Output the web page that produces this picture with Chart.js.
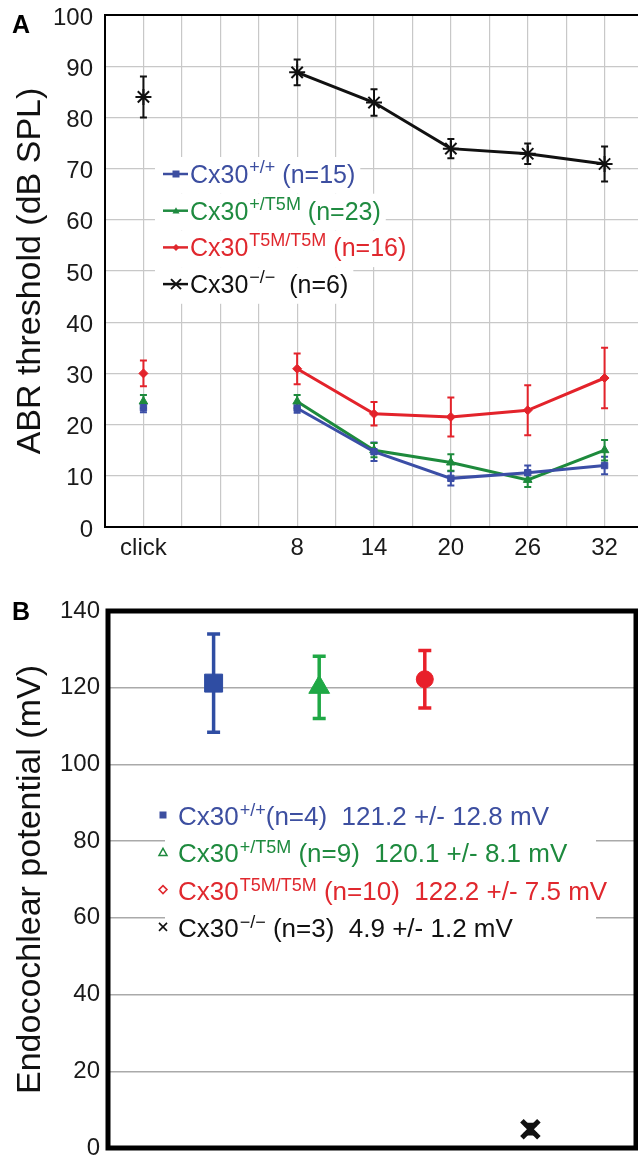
<!DOCTYPE html>
<html lang="en">
<head>
  <meta charset="UTF-8">
  <title>Cx30 ABR thresholds and endocochlear potential</title>
  <script src="https://cdn.jsdelivr.net/npm/chart.js"></script>
  <style>
    body { margin: 0; background: #fff; width: 638px; height: 1157px; overflow: hidden; position: relative; }
    .panel { position: absolute; left: 0; width: 638px; overflow: hidden; }
    #wrapA { top: 0; height: 580px; }
    #wrapB { top: 580px; height: 577px; }
    canvas { display: block; position: absolute; left: 0; }
    #chartA { top: -12px; }
    #chartB { top: 0; }
  </style>
</head>
<body>
  <div class="panel" id="wrapA"><canvas id="chartA" width="650" height="592"></canvas></div>
  <div class="panel" id="wrapB"><canvas id="chartB" width="638" height="592"></canvas></div>

<script>
  // ---- panel A data (ABR thresholds, dB SPL) ----
  const freqSlots = ['', 'click', '', '', '', '8', '', '14', '', '20', '', '26', '', '32', ''];
  const freqLabels = ['click', '8', '14', '20', '26', '32'];
  const wtMean  = [23.3, 23.2, 14.7, 9.5, 10.6, 12.0];
  const wtErr   = [0.9, 0.9, 1.8, 1.4, 1.4, 1.7];
  const hetMean = [24.5, 24.5, 15.0, 12.6, 9.2, 15.0];
  const hetErr  = [1.3, 1.3, 1.4, 1.6, 1.4, 2.0];
  const homMean = [30.0, 30.9, 22.1, 21.5, 22.8, 29.1];
  const homErr  = [2.5, 3.0, 2.3, 3.8, 4.9, 5.9];
  const koMean  = [84.0, 88.8, 82.9, 73.9, 72.9, 70.9];
  const koErr   = [4.0, 2.5, 2.6, 1.9, 2.0, 3.4];

  // ---- panel B data (endocochlear potential, mV) ----
  const genoSlots = ['', 'Cx30+/+', 'Cx30+/T5M', 'Cx30T5M/T5M', 'Cx30-/-', ''];
  const genotypes = ['Cx30+/+', 'Cx30+/T5M', 'Cx30T5M/T5M', 'Cx30-/-'];
  const epMean = [121.2, 120.1, 122.2, 4.9];
  const epErr  = [12.8, 8.1, 7.5, 1.2];

  const FONT = '"Liberation Sans", Arial, Helvetica, sans-serif';
  const BLUE = '#3b4ea6', GREEN = '#1d8a3c', RED = '#e3232b', BLACK = '#111';
  const OFFA = 12; // canvas A sits 12px above the page top

  const legendA = [
    { color: '#3c4ea0', marker: 'rect', sup: '+/+', rest: ' (n=15)' },
    { color: '#1f8b40', marker: 'triangle', sup: '+/T5M', rest: ' (n=23)' },
    { color: '#e0282e', marker: 'diamond', sup: 'T5M/T5M', rest: ' (n=16)' },
    { color: '#111', marker: 'star', sup: '\u2212/\u2212', rest: '  (n=6)' }
  ];
  const legendB = [
    { color: '#3d4fa0', marker: 'rect', sup: '+/+', rest: '(n=4)  121.2 +/- 12.8 mV' },
    { color: '#1e8a3e', marker: 'triangle', sup: '+/T5M', rest: ' (n=9)  120.1 +/- 8.1 mV' },
    { color: '#e0282e', marker: 'diamond', sup: 'T5M/T5M', rest: ' (n=10)  122.2 +/- 7.5 mV' },
    { color: '#111', marker: 'cross', sup: '\u2212/\u2212', rest: ' (n=3)  4.9 +/- 1.2 mV' }
  ];

  const toPoints = (labels, means) => labels.map((l, i) => ({ x: l, y: means[i] }));

  // vertical error bars through the y scale
  const errorBars = {
    id: 'errorBars',
    beforeDatasetsDraw(chart) {
      const ctx = chart.ctx;
      const ys = chart.scales.y;
      chart.data.datasets.forEach((ds, di) => {
        if (!ds.errors) return;
        const meta = chart.getDatasetMeta(di);
        meta.data.forEach((pt, i) => {
          const v = ds.data[i].y, e = ds.errors[i];
          const top = ys.getPixelForValue(v + e), bot = ys.getPixelForValue(v - e);
          ctx.save();
          ctx.strokeStyle = Array.isArray(ds.errColor) ? ds.errColor[i] : ds.errColor;
          ctx.lineWidth = ds.errWidth;
          ctx.beginPath();
          ctx.moveTo(pt.x, top); ctx.lineTo(pt.x, bot);
          ctx.moveTo(pt.x - ds.capW, top); ctx.lineTo(pt.x + ds.capW, top);
          ctx.moveTo(pt.x - ds.capW, bot); ctx.lineTo(pt.x + ds.capW, bot);
          ctx.stroke();
          ctx.restore();
        });
      });
    }
  };

  function drawMark(ctx, type, x, y, r, color, filled) {
    ctx.save();
    ctx.fillStyle = color; ctx.strokeStyle = color; ctx.lineWidth = 1.5;
    ctx.beginPath();
    if (type === 'rect') {
      ctx.rect(x - r, y - r, 2 * r, 2 * r);
    } else if (type === 'triangle') {
      ctx.moveTo(x, y - r); ctx.lineTo(x + r, y + r * 0.8); ctx.lineTo(x - r, y + r * 0.8); ctx.closePath();
    } else if (type === 'diamond') {
      ctx.moveTo(x, y - r); ctx.lineTo(x + r, y); ctx.lineTo(x, y + r); ctx.lineTo(x - r, y); ctx.closePath();
    } else if (type === 'star') {
      ctx.lineWidth = 2;
      ctx.moveTo(x - r, y - r); ctx.lineTo(x + r, y + r);
      ctx.moveTo(x - r, y + r); ctx.lineTo(x + r, y - r);
      ctx.moveTo(x - r * 1.2, y); ctx.lineTo(x + r * 1.2, y);
      ctx.stroke(); ctx.restore(); return;
    } else if (type === 'cross') {
      ctx.lineWidth = 1.6;
      ctx.moveTo(x - r, y - r); ctx.lineTo(x + r, y + r);
      ctx.moveTo(x - r, y + r); ctx.lineTo(x + r, y - r);
      ctx.stroke(); ctx.restore(); return;
    }
    if (filled) ctx.fill(); else ctx.stroke();
    ctx.restore();
  }

  // text row "Cx30" + superscript + rest; returns right end
  function legendText(ctx, row, x, base, size, supSize, raise, draw) {
    ctx.textAlign = 'left';
    ctx.textBaseline = 'alphabetic';
    ctx.fillStyle = row.color;
    ctx.font = size + 'px ' + FONT;
    if (draw) ctx.fillText('Cx30', x, base);
    let cx = x + ctx.measureText('Cx30').width + 1;
    ctx.font = supSize + 'px ' + FONT;
    if (draw) ctx.fillText(row.sup, cx, base - raise);
    cx += ctx.measureText(row.sup).width;
    ctx.font = size + 'px ' + FONT;
    if (draw) ctx.fillText(row.rest, cx, base);
    return cx + ctx.measureText(row.rest).width;
  }

  const panelA = {
    id: 'panelA',
    beforeDatasetsDraw(chart) {
      const ctx = chart.ctx;
      ctx.save();
      legendA.forEach((row, i) => {
        const base = 183 + OFFA + i * 36.7;
        const end = legendText(ctx, row, 190, base, 25, 18, 10, false);
        ctx.fillStyle = '#fff';
        ctx.fillRect(155, base - 26, end + 5 - 155, 36.7);
      });
      ctx.restore();
    },
    afterDraw(chart) {
      const ctx = chart.ctx, a = chart.chartArea;
      ctx.save();
      ctx.strokeStyle = '#000'; ctx.lineWidth = 2;
      ctx.beginPath(); ctx.moveTo(a.left, a.top); ctx.lineTo(a.right, a.top); ctx.stroke();
      legendA.forEach((row, i) => {
        const base = 183 + OFFA + i * 36.7;
        const my = base - 9;
        ctx.strokeStyle = row.color; ctx.lineWidth = 2.5;
        ctx.beginPath(); ctx.moveTo(163, my); ctx.lineTo(188, my); ctx.stroke();
        drawMark(ctx, row.marker, 176, my, row.marker === 'star' ? 5 : 3.5, row.color, true);
        legendText(ctx, row, 190, base, 25, 18, 10, true);
      });
      ctx.fillStyle = '#000';
      ctx.font = 'bold 25px ' + FONT;
      ctx.textBaseline = 'alphabetic'; ctx.textAlign = 'left';
      ctx.fillText('A', 12, 33 + OFFA);
      ctx.restore();
    }
  };

  const panelB = {
    id: 'panelB',
    beforeDatasetsDraw(chart) {
      const ctx = chart.ctx;
      ctx.save();
      ctx.fillStyle = '#fff';
      ctx.fillRect(165, 215, 596 - 165, 152);
      ctx.restore();
    },
    afterDraw(chart) {
      const ctx = chart.ctx, a = chart.chartArea;
      ctx.save();
      ctx.strokeStyle = '#000'; ctx.lineWidth = 5;
      ctx.strokeRect(a.left, a.top, a.right - a.left, a.bottom - a.top);
      legendB.forEach((row, i) => {
        const base = 245 + i * 37.3;
        drawMark(ctx, row.marker, 163, base - 10, row.marker === 'rect' ? 3.5 : 4, row.color, row.marker === 'rect');
        legendText(ctx, row, 178, base, 26, 18, 9, true);
      });
      ctx.fillStyle = '#000';
      ctx.font = 'bold 25px ' + FONT;
      ctx.textBaseline = 'alphabetic'; ctx.textAlign = 'left';
      ctx.fillText('B', 12, 40);
      ctx.restore();
    }
  };

  function lineSet(label, means, errs, color, style, radius) {
    return {
      label: label,
      data: toPoints(freqLabels, means),
      errors: errs,
      errColor: color, errWidth: 2, capW: 3.5,
      borderColor: color,
      backgroundColor: color,
      borderWidth: 3,
      pointStyle: style,
      pointRadius: radius,
      pointBorderWidth: style === 'star' ? 2 : 1,
      pointBackgroundColor: color,
      pointBorderColor: color,
      tension: 0,
      segment: { borderColor: c => c.p0DataIndex === 0 ? 'rgba(0,0,0,0)' : color }
    };
  }

  const tickFont = { family: FONT, size: 24 };
  const titleFont = { family: FONT, size: 34 };

  new Chart(document.getElementById('chartA'), {
    type: 'line',
    data: {
      labels: freqSlots,
      datasets: [
        lineSet('Cx30+/+', wtMean, wtErr, BLUE, 'rect', 4.5),
        lineSet('Cx30+/T5M', hetMean, hetErr, GREEN, 'triangle', 5),
        lineSet('Cx30T5M/T5M', homMean, homErr, RED, 'rectRot', 4.5),
        lineSet('Cx30-/-', koMean, koErr, BLACK, 'star', 8)
      ]
    },
    options: {
      responsive: false,
      animation: false,
      layout: { autoPadding: false, padding: { top: 27, left: 0, right: 0, bottom: 0 } },
      plugins: { legend: { display: false }, tooltip: { enabled: false } },
      scales: {
        x: {
          type: 'category',
          offset: false,
          grid: { color: '#c8c8c8', lineWidth: 1.2, drawTicks: false },
          border: { color: '#000', width: 2 },
          ticks: { autoSkip: false, maxRotation: 0, padding: 7, color: '#1a1a1a', font: tickFont },
          afterFit: s => { s.height = 53; }
        },
        y: {
          min: 0, max: 100,
          grid: { color: '#c8c8c8', lineWidth: 1.2, drawTicks: false },
          border: { color: '#000', width: 2 },
          ticks: { stepSize: 10, padding: 12, labelOffset: 3, color: '#1a1a1a', font: tickFont },
          title: { display: true, text: 'ABR threshold (dB SPL)', color: '#111', font: titleFont, padding: { top: 10, bottom: 0 } },
          afterFit: s => { s.width = 105; }
        }
      }
    },
    plugins: [errorBars, panelA]
  });

  new Chart(document.getElementById('chartB'), {
    type: 'line',
    data: {
      labels: genoSlots,
      datasets: [{
        label: 'EP',
        data: toPoints(genotypes, epMean),
        errors: epErr,
        errColor: ['#2f4da3', '#1fa845', '#e8202a', '#111'],
        errWidth: 3.5, capW: 6.5,
        showLine: false,
        pointStyle: ['rect', 'triangle', 'circle', 'crossRot'],
        pointRadius: [12.7, 12, 8.5, 12],
        pointBorderWidth: [1, 1, 1, 5],
        pointBackgroundColor: ['#2f4da3', '#1fa845', '#e8202a', '#111'],
        pointBorderColor: ['#2f4da3', '#1fa845', '#e8202a', '#111']
      }]
    },
    options: {
      responsive: false,
      animation: false,
      layout: { autoPadding: false, padding: { top: 31, left: 0, right: 2, bottom: 0 } },
      plugins: { legend: { display: false }, tooltip: { enabled: false } },
      scales: {
        x: {
          type: 'category',
          offset: false,
          grid: { display: false },
          border: { display: false },
          ticks: { display: false },
          afterFit: s => { s.height = 24; }
        },
        y: {
          min: 0, max: 140,
          grid: { color: '#aaaaaa', lineWidth: 1.5, drawTicks: false },
          border: { display: false },
          ticks: { stepSize: 20, padding: 8, color: '#1a1a1a', font: tickFont },
          title: { display: true, text: 'Endocochlear potential (mV)', color: '#111', font: titleFont, padding: { top: 10, bottom: 0 } },
          afterFit: s => { s.width = 108; }
        }
      }
    },
    plugins: [errorBars, panelB]
  });
</script>
</body>
</html>
